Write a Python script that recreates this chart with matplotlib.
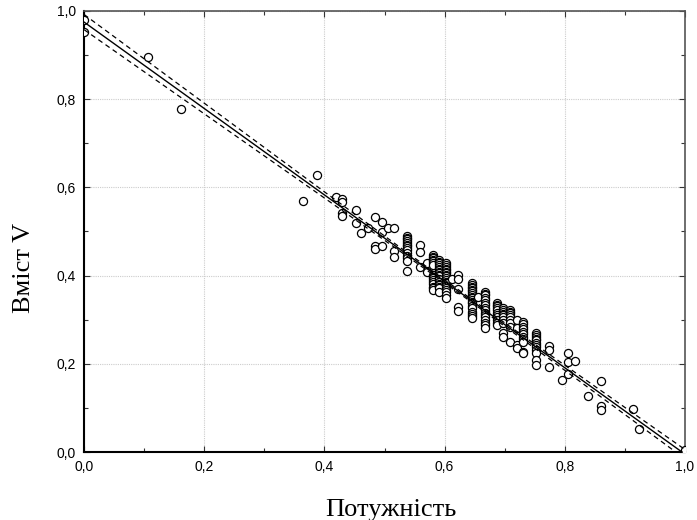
import numpy as np
import matplotlib
matplotlib.use("Agg")
import matplotlib.pyplot as plt
from matplotlib.ticker import MultipleLocator, FuncFormatter

# Potuzhnist (x) vs V content (y), grouped by column
columns = [
    (0.000, [0.980, 0.952]),
    (0.106, [0.896]),
    (0.161, [0.778]),
    (0.364, [0.569]),
    (0.388, [0.629]),
    (0.420, [0.579]),
    (0.430, [0.574, 0.566, 0.541, 0.535]),
    (0.453, [0.549, 0.520]),
    (0.461, [0.497]),
    (0.473, [0.509]),
    (0.484, [0.532, 0.467, 0.460]),
    (0.496, [0.522, 0.499, 0.467]),
    (0.505, [0.509]),
    (0.516, [0.509, 0.456, 0.443]),
    (0.537, [0.490, 0.486, 0.482, 0.478, 0.475, 0.470, 0.467, 0.462,
             0.458, 0.451, 0.444, 0.439, 0.432, 0.411]),
    (0.559, [0.469, 0.453, 0.420]),
    (0.570, [0.428, 0.409]),
    (0.580, [0.447, 0.443, 0.439, 0.435, 0.432, 0.428, 0.424, 0.401,
             0.397, 0.394, 0.390, 0.386, 0.380, 0.375, 0.371, 0.367]),
    (0.591, [0.435, 0.431, 0.428, 0.424, 0.420, 0.416, 0.413, 0.409,
             0.405, 0.401, 0.398, 0.392, 0.386, 0.382, 0.379, 0.375,
             0.371, 0.363]),
    (0.602, [0.428, 0.424, 0.420, 0.416, 0.413, 0.409, 0.405, 0.401,
             0.398, 0.394, 0.390, 0.386, 0.383, 0.377, 0.371, 0.367,
             0.363, 0.356, 0.349]),
    (0.612, [0.392]),
    (0.623, [0.401, 0.392, 0.369, 0.328, 0.320]),
    (0.645, [0.383, 0.379, 0.375, 0.371, 0.367, 0.364, 0.360, 0.356,
             0.352, 0.349, 0.345, 0.341, 0.337, 0.330, 0.326, 0.318,
             0.314, 0.309, 0.303]),
    (0.655, [0.352]),
    (0.667, [0.363, 0.359, 0.356, 0.350, 0.345, 0.339, 0.333, 0.327,
             0.322, 0.316, 0.311, 0.305, 0.299, 0.293, 0.288, 0.281]),
    (0.687, [0.337, 0.333, 0.330, 0.326, 0.322, 0.316, 0.311, 0.305,
             0.299, 0.293, 0.288]),
    (0.698, [0.326, 0.322, 0.318, 0.314, 0.311, 0.305, 0.299, 0.292,
             0.269, 0.261]),
    (0.709, [0.322, 0.318, 0.315, 0.311, 0.307, 0.299, 0.292, 0.284,
             0.250]),
    (0.720, [0.299, 0.281, 0.243, 0.235]),
    (0.730, [0.295, 0.290, 0.284, 0.278, 0.273, 0.267, 0.261, 0.256,
             0.250, 0.227, 0.224]),
    (0.752, [0.269, 0.265, 0.261, 0.257, 0.254, 0.248, 0.243, 0.237,
             0.231, 0.224, 0.209, 0.197]),
    (0.774, [0.240, 0.231, 0.193]),
    (0.795, [0.163]),
    (0.806, [0.224, 0.205, 0.178]),
    (0.817, [0.207]),
    (0.838, [0.127]),
    (0.860, [0.161, 0.104, 0.095]),
    (0.913, [0.097]),
    (0.924, [0.053]),
    (1.000, [0.005]),
]

power = np.array([x for x, ys in columns for _ in ys])
v_content = np.array([y for _, ys in columns for y in ys])

# regression line as drawn on the original (intercept, slope)
fit_intercept = 0.975
fit_slope = -0.980

xlabel = 'Потужність'
ylabel = 'Вміст V'

# 95% confidence band around the line
n = len(power)
resid = v_content - (fit_intercept + fit_slope * power)
s = np.sqrt(np.sum(resid ** 2) / (n - 2))
sxx = np.sum((power - power.mean()) ** 2)
xfit = np.linspace(0, 1, 200)
yfit = fit_intercept + fit_slope * xfit
half = 1.97 * s * np.sqrt(1.0 / n + (xfit - power.mean()) ** 2 / sxx)

fig = plt.figure(figsize=(6.97, 5.20), dpi=100)
ax = fig.add_axes([84 / 697, 68 / 520, 601 / 697, 441 / 520])

ax.scatter(power, v_content, s=34, facecolors='white', edgecolors='black',
           linewidths=0.9, zorder=3)
ax.plot(xfit, yfit, color='black', lw=1.0, zorder=4)
ax.plot(xfit, yfit + half, color='black', lw=0.9, ls=(0, (4, 3)), zorder=4)
ax.plot(xfit, yfit - half, color='black', lw=0.9, ls=(0, (4, 3)), zorder=4)

ax.set_xlim(0, 1)
ax.set_ylim(0, 1)
ax.xaxis.set_major_locator(MultipleLocator(0.2))
ax.yaxis.set_major_locator(MultipleLocator(0.2))
ax.xaxis.set_minor_locator(MultipleLocator(0.1))
ax.yaxis.set_minor_locator(MultipleLocator(0.1))
fmt = FuncFormatter(lambda v, p: f'{v:.1f}'.replace('.', ','))
ax.xaxis.set_major_formatter(fmt)
ax.yaxis.set_major_formatter(fmt)

ax.grid(True, which='major', color='#cccccc', ls=(0, (1, 1)), lw=0.8)
ax.tick_params(which='both', direction='in', top=True, right=True,
               color='#333333', width=0.8)
ax.tick_params(which='major', length=4, labelsize=10, pad=6)
ax.tick_params(which='minor', length=3)
for lab in ax.get_xticklabels() + ax.get_yticklabels():
    lab.set_fontfamily('Liberation Sans')

for side in ['left', 'bottom']:
    ax.spines[side].set_linewidth(1.5)
    ax.spines[side].set_color('black')
for side in ['top', 'right']:
    ax.spines[side].set_linewidth(1.2)
    ax.spines[side].set_color('#555555')

ax.set_xlabel(xlabel, fontfamily='Liberation Serif', fontsize=19,
              va='center', ha='center')
ax.set_ylabel(ylabel, fontfamily='Liberation Serif', fontsize=19,
              va='center', ha='center')
ax.xaxis.set_label_coords(0.510, -0.132)
ax.yaxis.set_label_coords(-0.100, 0.418)

fig.savefig('out.png', dpi=100)
